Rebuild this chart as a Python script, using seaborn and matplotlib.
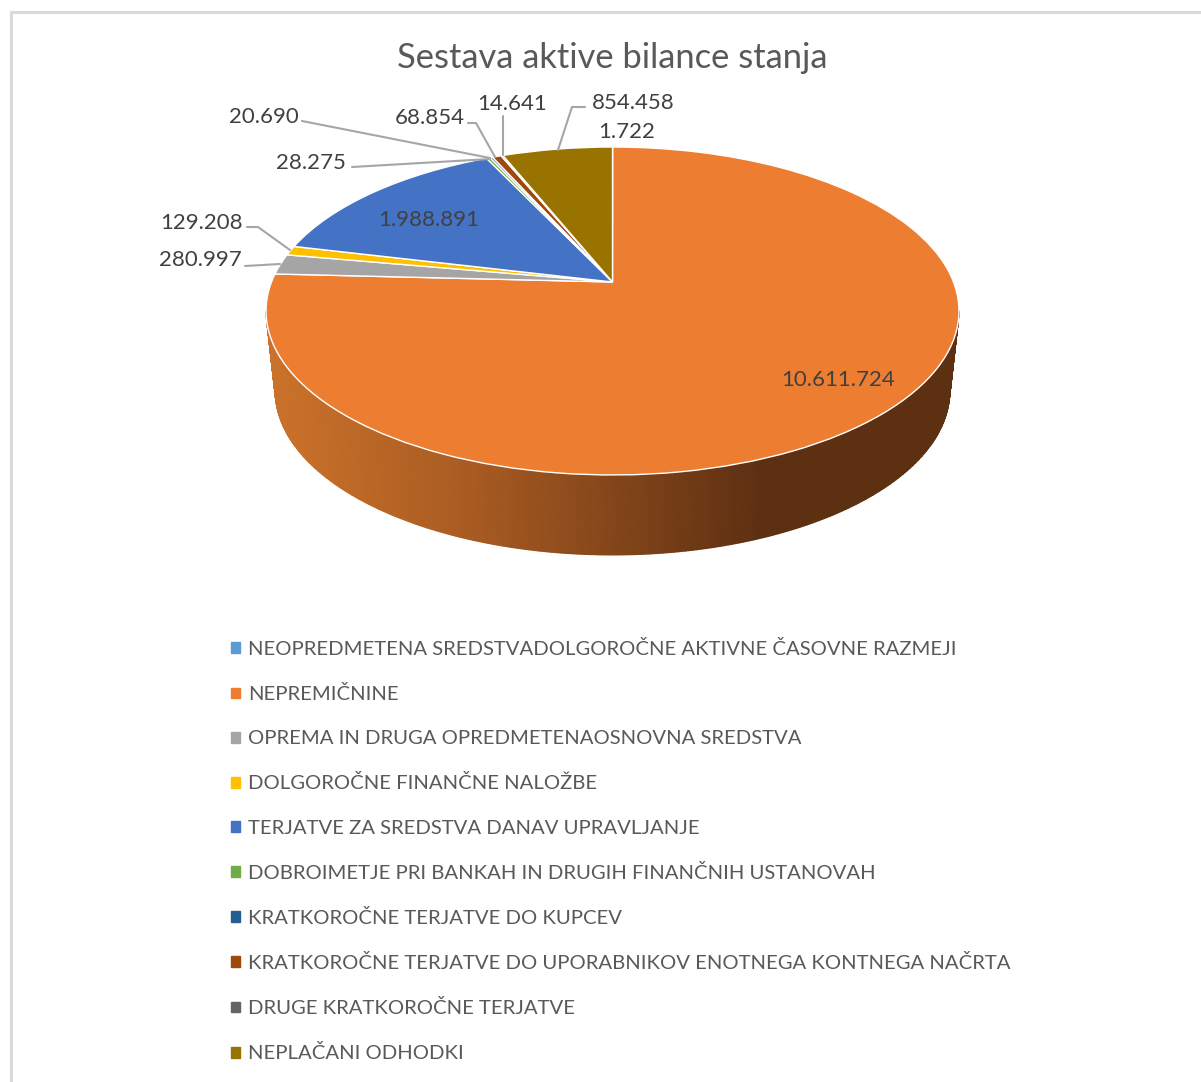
import numpy as np
import matplotlib
matplotlib.use('Agg')
import matplotlib.pyplot as plt
import matplotlib.patches as mpatches
from matplotlib.colors import LinearSegmentedColormap
from matplotlib.transforms import Transform
import seaborn as sns

categories = ['NEOPREDMETENA SREDSTVADOLGOROČNE AKTIVNE ČASOVNE RAZMEJI',
              'NEPREMIČNINE',
              'OPREMA IN DRUGA OPREDMETENAOSNOVNA SREDSTVA',
              'DOLGOROČNE FINANČNE NALOŽBE',
              'TERJATVE ZA SREDSTVA DANAV UPRAVLJANJE',
              'DOBROIMETJE PRI BANKAH IN DRUGIH FINANČNIH USTANOVAH',
              'KRATKOROČNE TERJATVE DO KUPCEV',
              'KRATKOROČNE TERJATVE DO UPORABNIKOV ENOTNEGA KONTNEGA NAČRTA',
              'DRUGE KRATKOROČNE TERJATVE',
              'NEPLAČANI ODHODKI']
values = [1722, 10611724, 280997, 129208, 1988891, 28275, 20690, 68854, 14641, 854458]
colors = ['#5B9BD5', '#ED7D31', '#A5A5A5', '#FFC000', '#4472C4',
          '#70AD47', '#255E91', '#9E480E', '#636363', '#997300']

# where the value labels sit, in picture pixels
label_x = [627, 838, 200, 202, 429, 311, 264, 430, 512, 633]
label_y = [132, 380, 260, 223, 220, 163, 117, 118, 104, 103]

# leader lines, in picture pixels
leaders = [([302, 490], [121, 158]),
           ([352, 490], [167, 159]),
           ([468, 476, 495], [123, 123, 157]),
           ([503, 503], [116, 155]),
           ([585, 572, 558], [107, 107, 150]),
           ([247, 258, 290], [227, 227, 250]),
           ([245, 280], [266, 264])]

CX, APEX_Y = 612.5, 282
TILT_A, TILT_C = -109, 0.1768


# Unit circle to the tilted disc the spreadsheet draws
class PieTilt(Transform):
    input_dims = 2
    output_dims = 2
    is_separable = False

    def __init__(self, radius=341, drop=0):
        super().__init__()
        self.radius = radius
        self.drop = drop

    def transform_non_affine(self, xy):
        xy = np.asarray(xy, dtype=float)
        w = 1 + TILT_C * xy[:, 1]
        sx = CX + self.radius * xy[:, 0] / w
        sy = (TILT_A * xy[:, 1] + APEX_Y) / w + self.drop
        return np.column_stack([sx, sy])


sns.set_theme(style='white')
plt.rcParams['font.family'] = ['Lato', 'DejaVu Sans']

fig = plt.figure(figsize=(12.01, 10.82), dpi=100)
ax = fig.add_axes([0, 0, 1, 1])

wedges, _ = ax.pie(values, colors=sns.color_palette(colors), startangle=90, counterclock=False,
                   wedgeprops=dict(edgecolor='white', linewidth=1.0))
ax.set_aspect('auto')
ax.set_xlim(0, 1201)
ax.set_ylim(1082, 0)
top = PieTilt()
for w in wedges:
    w.set_transform(top + ax.transData)
    w.set_zorder(2)

# side wall of the pie, darker to the right
theta = np.radians(np.linspace(190, 350, 300))
ring = np.column_stack([np.cos(theta), np.sin(theta)])
upper = top.transform_non_affine(ring)
lower = PieTilt(radius=332, drop=80).transform_non_affine(ring)
wall_x = np.vstack([upper[:, 0], lower[:, 0]])
wall_y = np.vstack([upper[:, 1], lower[:, 1]])
wall_cmap = LinearSegmentedColormap.from_list('wall', [(0, '#CC732B'), (0.3, '#A85B22'), (0.72, '#5E3012'), (1, '#5E3012')])
ax.pcolormesh(wall_x, wall_y, wall_x, cmap=wall_cmap, shading='gouraud', vmin=268, vmax=950, zorder=1)

# frame of the pasted picture
ax.plot([11, 11, 1201], [1082, 12, 12], color='#D9D9D9', lw=2.2, solid_joinstyle='miter', clip_on=False)

ax.text(612, 58, 'Sestava aktive bilance stanja', ha='center', va='center', fontsize=24.8, color='#595959')

for xs, ys in leaders:
    ax.plot(xs, ys, color='#A6A6A6', lw=1.5, zorder=3)

for v, x, y in zip(values, label_x, label_y):
    ax.text(x, y, f'{v:,}'.replace(',', '.'), ha='center', va='center', fontsize=16, color='#404040', zorder=4)

handles = [mpatches.Patch(color=c) for c in colors]
ax.legend(handles, categories, loc='upper left', bbox_to_anchor=(231 / 1201, 1 - 640 / 1082),
          frameon=False, fontsize=14.57, labelcolor='#595959', borderaxespad=0, borderpad=0,
          handlelength=0.45, handleheight=0.45, handletextpad=0.38, labelspacing=1.342)

fig.savefig('out.png', dpi=100, facecolor='white')
